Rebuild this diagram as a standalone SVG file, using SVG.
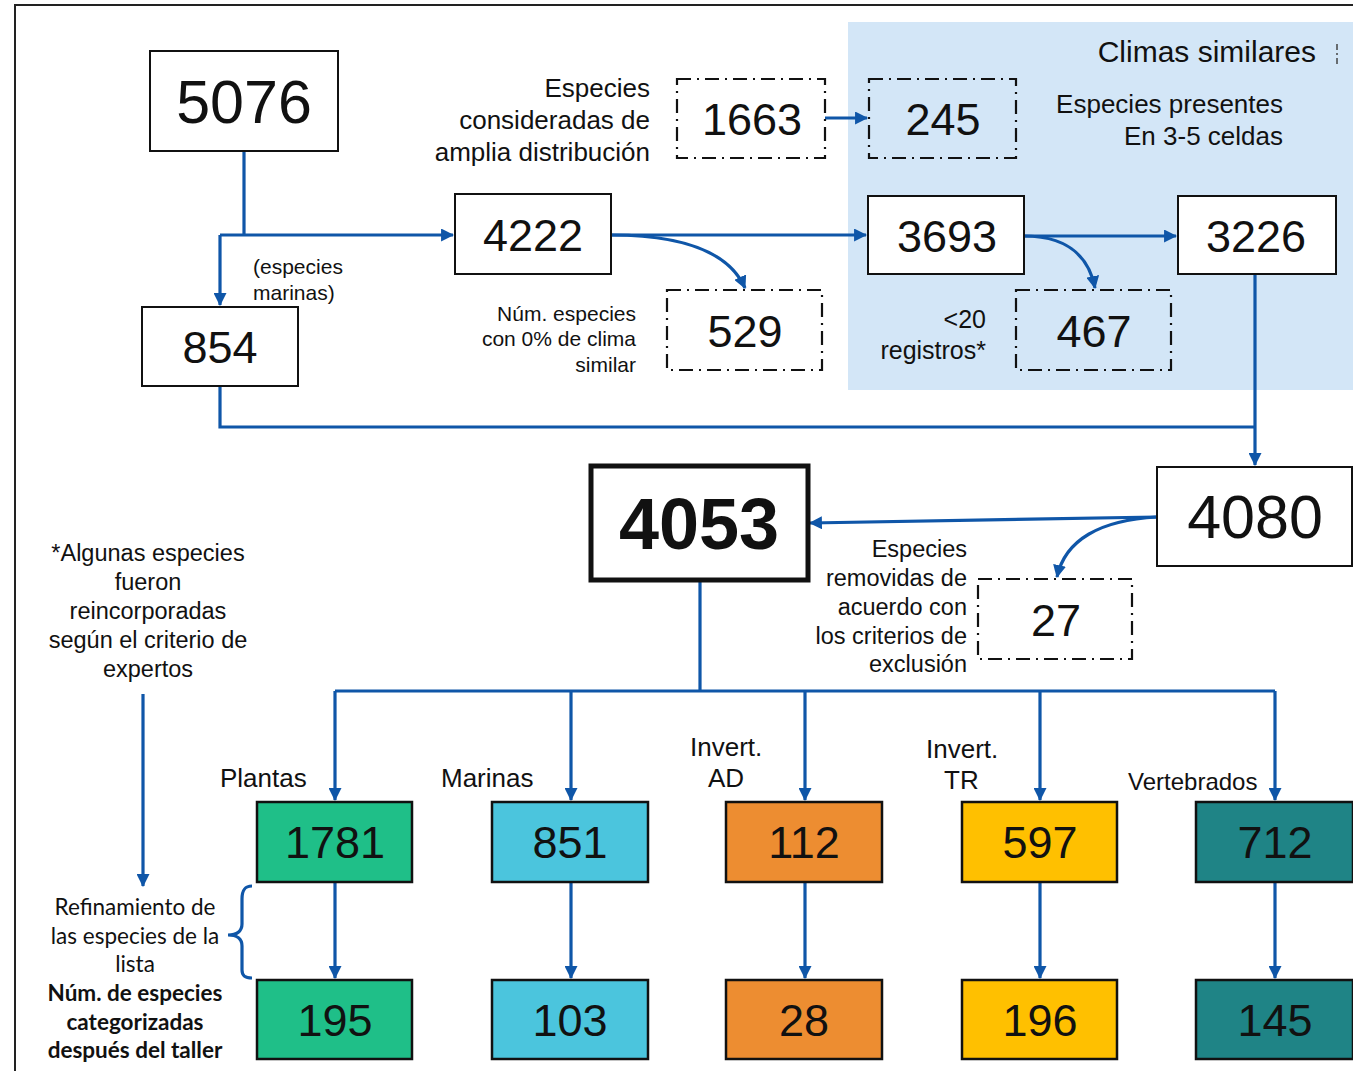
<svg xmlns="http://www.w3.org/2000/svg" width="1353" height="1071" viewBox="0 0 1353 1071">
<defs>
<style>
.t{font-family:"Liberation Sans",Arial,sans-serif;fill:#111}
.n{font-family:"Liberation Sans",Arial,sans-serif;fill:#111;text-anchor:middle;font-size:45px}
.big{font-size:61px}
.bold{font-size:72px;font-weight:bold}
.box{fill:#fff;stroke:#111;stroke-width:2}
.dbox{fill:none;stroke:#111;stroke-width:2.2;stroke-dasharray:14 6 2 6}
.cbox{stroke:#111;stroke-width:2.5}
.c{fill:none;stroke:#0F56A8;stroke-width:3.2}
.ca{fill:none;stroke:#0F56A8;stroke-width:3.2;marker-end:url(#ah)}
.r{text-anchor:end}
.m{text-anchor:middle}
.cal{font-family:Lato,"Liberation Sans",sans-serif;fill:#111;text-anchor:middle}
</style>
<marker id="ah" viewBox="0 0 12 12" refX="11" refY="6" markerWidth="13" markerHeight="13" markerUnits="userSpaceOnUse" orient="auto">
<path d="M0,0 L12,6 L0,12 Z" fill="#0F56A8"/>
</marker>
</defs>
<rect width="1353" height="1071" fill="#fff"/>
<path d="M15,1071 L15,5 L1353,5" fill="none" stroke="#222" stroke-width="2"/>
<rect x="848" y="22" width="505" height="368" fill="#D3E6F7"/>
<line x1="1337" y1="44" x2="1337" y2="64" stroke="#444" stroke-width="1.5" stroke-dasharray="6 3 2 3"/>

<g id="connectors">
<path class="c" d="M244,151 L244,235"/>
<path class="ca" d="M220,235 L453,235"/>
<path class="ca" d="M220,235 L220,305"/>
<path class="ca" d="M611,235 L866,235"/>
<path class="ca" d="M611,235 C680,235 728,250 745,288"/>
<path class="ca" d="M825,118 L867,118"/>
<path class="ca" d="M1024,236 L1176,236"/>
<path class="ca" d="M1024,236 C1062,236 1088,252 1095,288"/>
<path class="c" d="M1255,274 L1255,427"/>
<path class="c" d="M220,386 L220,427 L1255,427"/>
<path class="ca" d="M1255,427 L1255,465"/>
<path class="ca" d="M1157,517 L810,523"/>
<path class="ca" d="M1157,517 C1100,520 1065,540 1057,577"/>
<path class="c" d="M700,580 L700,691"/>
<path class="c" d="M335,691 L1275,691"/>
<path class="ca" d="M335,691 L335,800"/>
<path class="ca" d="M571,691 L571,800"/>
<path class="ca" d="M805,691 L805,800"/>
<path class="ca" d="M1040,691 L1040,800"/>
<path class="ca" d="M1275,691 L1275,800"/>
<path class="ca" d="M335,882 L335,978"/>
<path class="ca" d="M571,882 L571,978"/>
<path class="ca" d="M805,882 L805,978"/>
<path class="ca" d="M1040,882 L1040,978"/>
<path class="ca" d="M1275,882 L1275,978"/>
<path class="ca" d="M143,694 L143,886"/>
<path class="c" d="M252,886 C244,886 242,891 242,899 L242,924 C242,931 237,935 228,935 C237,935 242,939 242,946 L242,970 C242,976 245,978 252,978" stroke-width="2.5"/>
</g>

<g id="n5076"><rect class="box" x="150" y="51" width="188" height="100"/><text class="n big" x="244" y="123">5076</text></g>
<g id="n854"><rect class="box" x="142" y="307" width="156" height="79"/><text class="n" x="220" y="363">854</text></g>
<g id="n4222"><rect class="box" x="455" y="194" width="156" height="80"/><text class="n" x="533" y="251">4222</text></g>
<g id="n1663"><rect class="dbox" x="677" y="79" width="148" height="79"/><text class="n" x="752" y="135">1663</text></g>
<g id="n245"><rect class="dbox" x="869" y="79" width="147" height="79"/><text class="n" x="943" y="135">245</text></g>
<g id="n529"><rect class="dbox" x="667" y="290" width="155" height="80"/><text class="n" x="745" y="347">529</text></g>
<g id="n3693"><rect class="box" x="868" y="196" width="156" height="78"/><text class="n" x="947" y="252">3693</text></g>
<g id="n3226"><rect class="box" x="1178" y="196" width="158" height="78"/><text class="n" x="1256" y="252">3226</text></g>
<g id="n467"><rect class="dbox" x="1016" y="290" width="155" height="80"/><text class="n" x="1094" y="347">467</text></g>
<g id="n4080"><rect class="box" x="1157" y="467" width="195" height="99"/><text class="n big" x="1255" y="538">4080</text></g>
<g id="n4053"><rect x="591" y="466" width="217" height="114" fill="#fff" stroke="#111" stroke-width="5"/><text class="n bold" x="699" y="549">4053</text></g>
<g id="n27"><rect class="dbox" x="978" y="579" width="154" height="80"/><text class="n" x="1056" y="636">27</text></g>

<g id="n1781"><rect class="cbox" x="257" y="802" width="155" height="80" fill="#1FBF88"/><text class="n" x="335" y="858">1781</text></g>
<g id="n851"><rect class="cbox" x="492" y="802" width="156" height="80" fill="#4BC5DD"/><text class="n" x="570" y="858">851</text></g>
<g id="n112"><rect class="cbox" x="726" y="802" width="156" height="80" fill="#ED8D31"/><text class="n" x="804" y="858">112</text></g>
<g id="n597"><rect class="cbox" x="962" y="802" width="155" height="80" fill="#FFC000"/><text class="n" x="1040" y="858">597</text></g>
<g id="n712"><rect class="cbox" x="1196" y="802" width="157" height="80" fill="#1F8486"/><text class="n" x="1275" y="858">712</text></g>
<g id="n195"><rect class="cbox" x="257" y="980" width="155" height="79" fill="#1FBF88"/><text class="n" x="335" y="1036">195</text></g>
<g id="n103"><rect class="cbox" x="492" y="980" width="156" height="79" fill="#4BC5DD"/><text class="n" x="570" y="1036">103</text></g>
<g id="n28"><rect class="cbox" x="726" y="980" width="156" height="79" fill="#ED8D31"/><text class="n" x="804" y="1036">28</text></g>
<g id="n196"><rect class="cbox" x="962" y="980" width="155" height="79" fill="#FFC000"/><text class="n" x="1040" y="1036">196</text></g>
<g id="n145"><rect class="cbox" x="1196" y="980" width="157" height="79" fill="#1F8486"/><text class="n" x="1275" y="1036">145</text></g>

<g id="labels">
<text class="t r" font-size="26"><tspan x="650" y="97">Especies</tspan><tspan x="650" y="129">consideradas de</tspan><tspan x="650" y="161">amplia distribución</tspan></text>
<text class="t r" font-size="30" x="1316" y="62">Climas similares</text>
<text class="t r" font-size="26"><tspan x="1283" y="113">Especies presentes</tspan><tspan x="1283" y="145">En 3-5 celdas</tspan></text>
<text class="t" font-size="21"><tspan x="253" y="274">(especies</tspan><tspan x="253" y="300">marinas)</tspan></text>
<text class="t r" font-size="21"><tspan x="636" y="321">Núm. especies</tspan><tspan x="636" y="346">con 0% de clima</tspan><tspan x="636" y="372">similar</tspan></text>
<text class="t r" font-size="25"><tspan x="986" y="328">&lt;20</tspan><tspan x="986" y="359">registros*</tspan></text>
<text class="t m" font-size="23.5"><tspan x="148" y="561">*Algunas especies</tspan><tspan x="148" y="590">fueron</tspan><tspan x="148" y="619">reincorporadas</tspan><tspan x="148" y="648">según el criterio de</tspan><tspan x="148" y="677">expertos</tspan></text>
<text class="t r" font-size="23.5"><tspan x="967" y="557">Especies</tspan><tspan x="967" y="586">removidas de</tspan><tspan x="967" y="615">acuerdo con</tspan><tspan x="967" y="644">los criterios de</tspan><tspan x="967" y="672">exclusión</tspan></text>
<text class="t" font-size="26" x="220" y="787">Plantas</text>
<text class="t" font-size="26" x="441" y="787">Marinas</text>
<text class="t" font-size="26"><tspan x="690" y="756">Invert.</tspan><tspan x="708" y="787">AD</tspan></text>
<text class="t" font-size="26"><tspan x="926" y="758">Invert.</tspan><tspan x="944" y="789">TR</tspan></text>
<text class="t" font-size="24" x="1128" y="790">Vertebrados</text>
<text class="cal" font-size="22.5"><tspan x="135" y="915">Refinamiento de</tspan><tspan x="135" y="944">las especies de la</tspan><tspan x="135" y="972">lista</tspan></text>
<text class="cal" font-size="22.5" font-weight="bold"><tspan x="135" y="1001">Núm. de especies</tspan><tspan x="135" y="1030">categorizadas</tspan><tspan x="135" y="1058">después del taller</tspan></text>
</g>
</svg>
